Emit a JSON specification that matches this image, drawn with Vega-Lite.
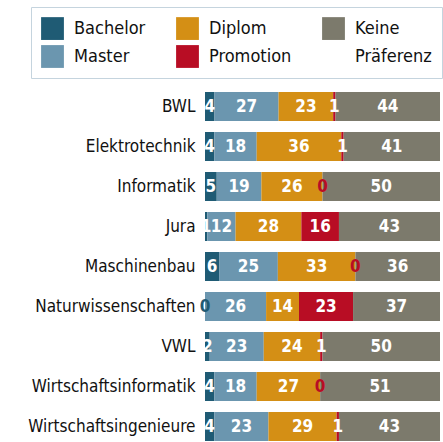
{
  "$schema": "https://vega.github.io/schema/vega-lite/v6.json",
  "width": 235,
  "height": 349,
  "autosize": {"type": "none"},
  "padding": {"left": 205, "top": 92, "right": 3, "bottom": 1},
  "background": "white",
  "config": {"view": {"stroke": null}, "font": "DejaVu Sans Condensed"},
  "data": {"values": [
    {"s": "BWL", "d": "Bachelor", "v": 4}, {"s": "BWL", "d": "Master", "v": 27}, {"s": "BWL", "d": "Diplom", "v": 23}, {"s": "BWL", "d": "Promotion", "v": 1}, {"s": "BWL", "d": "Keine Präferenz", "v": 44},
    {"s": "Elektrotechnik", "d": "Bachelor", "v": 4}, {"s": "Elektrotechnik", "d": "Master", "v": 18}, {"s": "Elektrotechnik", "d": "Diplom", "v": 36}, {"s": "Elektrotechnik", "d": "Promotion", "v": 1}, {"s": "Elektrotechnik", "d": "Keine Präferenz", "v": 41},
    {"s": "Informatik", "d": "Bachelor", "v": 5}, {"s": "Informatik", "d": "Master", "v": 19}, {"s": "Informatik", "d": "Diplom", "v": 26}, {"s": "Informatik", "d": "Promotion", "v": 0}, {"s": "Informatik", "d": "Keine Präferenz", "v": 50},
    {"s": "Jura", "d": "Bachelor", "v": 1}, {"s": "Jura", "d": "Master", "v": 12}, {"s": "Jura", "d": "Diplom", "v": 28}, {"s": "Jura", "d": "Promotion", "v": 16}, {"s": "Jura", "d": "Keine Präferenz", "v": 43},
    {"s": "Maschinenbau", "d": "Bachelor", "v": 6}, {"s": "Maschinenbau", "d": "Master", "v": 25}, {"s": "Maschinenbau", "d": "Diplom", "v": 33}, {"s": "Maschinenbau", "d": "Promotion", "v": 0}, {"s": "Maschinenbau", "d": "Keine Präferenz", "v": 36},
    {"s": "Naturwissenschaften", "d": "Bachelor", "v": 0}, {"s": "Naturwissenschaften", "d": "Master", "v": 26}, {"s": "Naturwissenschaften", "d": "Diplom", "v": 14}, {"s": "Naturwissenschaften", "d": "Promotion", "v": 23}, {"s": "Naturwissenschaften", "d": "Keine Präferenz", "v": 37},
    {"s": "VWL", "d": "Bachelor", "v": 2}, {"s": "VWL", "d": "Master", "v": 23}, {"s": "VWL", "d": "Diplom", "v": 24}, {"s": "VWL", "d": "Promotion", "v": 1}, {"s": "VWL", "d": "Keine Präferenz", "v": 50},
    {"s": "Wirtschaftsinformatik", "d": "Bachelor", "v": 4}, {"s": "Wirtschaftsinformatik", "d": "Master", "v": 18}, {"s": "Wirtschaftsinformatik", "d": "Diplom", "v": 27}, {"s": "Wirtschaftsinformatik", "d": "Promotion", "v": 0}, {"s": "Wirtschaftsinformatik", "d": "Keine Präferenz", "v": 51},
    {"s": "Wirtschaftsingenieure", "d": "Bachelor", "v": 4}, {"s": "Wirtschaftsingenieure", "d": "Master", "v": 23}, {"s": "Wirtschaftsingenieure", "d": "Diplom", "v": 29}, {"s": "Wirtschaftsingenieure", "d": "Promotion", "v": 1}, {"s": "Wirtschaftsingenieure", "d": "Keine Präferenz", "v": 43}
  ]},
  "transform": [
    {"calculate": "indexof(['Bachelor','Master','Diplom','Promotion','Keine Präferenz'], datum.d)", "as": "o"},
    {"stack": "v", "groupby": ["s"], "sort": [{"field": "o", "order": "ascending"}], "offset": "normalize", "as": ["x0", "x1"]},
    {"calculate": "(datum.x0 + datum.x1) / 2", "as": "xm"}
  ],
  "encoding": {
    "y": {
      "field": "s", "type": "nominal", "sort": null,
      "scale": {"paddingInner": 0.275, "paddingOuter": 0},
      "axis": {"title": null, "domain": false, "ticks": false, "labelPadding": 10, "labelFontSize": 17, "labelColor": "#111111", "labelFont": "DejaVu Sans Condensed"}
    }
  },
  "layer": [
    {
      "mark": {"type": "bar"},
      "encoding": {
        "x": {"field": "x0", "type": "quantitative", "scale": {"domain": [0, 1]}, "axis": null},
        "x2": {"field": "x1"},
        "color": {
          "field": "d", "type": "nominal",
          "scale": {
            "domain": ["Bachelor", "Master", "Diplom", "Promotion", "Keine Präferenz", "Präferenz"],
            "range": ["#1f5b74", "#6b96af", "#d48f15", "#b80d24", "#7c7a6c", "transparent"]
          },
          "legend": {
            "orient": "none", "legendX": -174, "legendY": -85, "columns": 3, "title": null,
            "symbolType": "square", "symbolSize": 520, "symbolStrokeWidth": 0,
            "labelFontSize": 18, "labelFont": "DejaVu Sans Condensed", "labelColor": "#111111",
            "labelOffset": 10, "columnPadding": 30, "rowPadding": 5, "padding": 10,
            "strokeColor": "#c5d4de", "fillColor": "white",
            "labelExpr": "datum.label == 'Keine Präferenz' ? 'Keine' : datum.label"
          }
        }
      }
    },
    {
      "mark": {"type": "text", "font": "DejaVu Sans Condensed", "fontWeight": "bold", "fontSize": 17, "baseline": "middle"},
      "encoding": {
        "x": {"field": "xm", "type": "quantitative"},
        "text": {"field": "v", "type": "quantitative"},
        "color": {"condition": {"test": "datum.v == 0", "field": "d", "type": "nominal", "legend": null}, "value": "white"}
      }
    }
  ]
}
